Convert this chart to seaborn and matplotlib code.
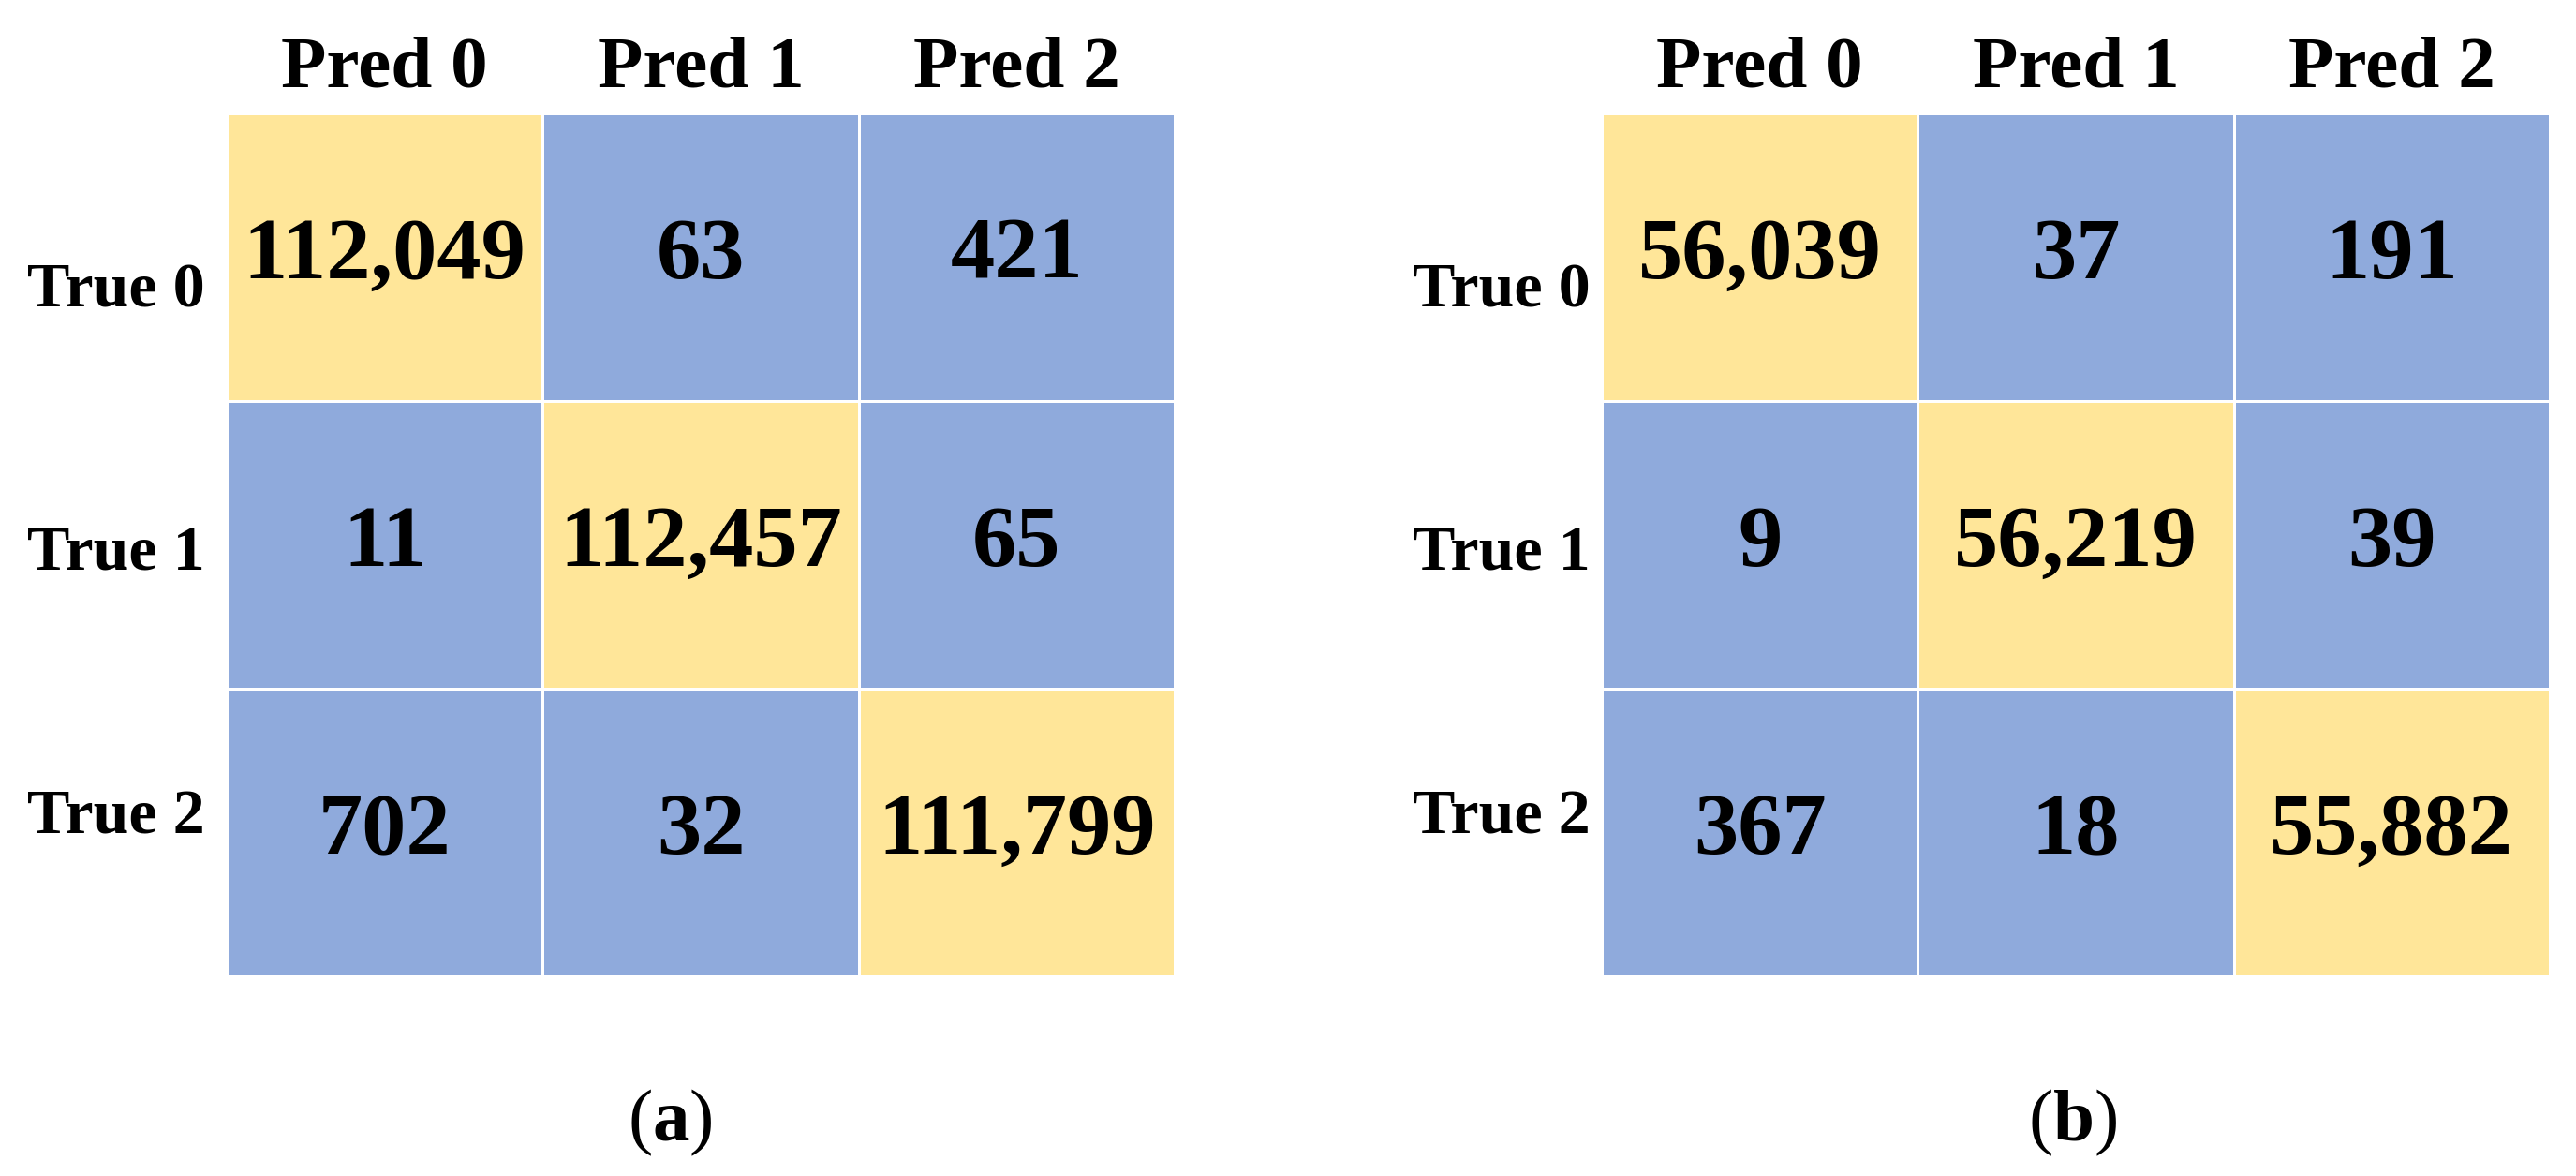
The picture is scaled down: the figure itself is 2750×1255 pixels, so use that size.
import numpy as np
import pandas as pd
import seaborn as sns
import matplotlib.pyplot as plt
from matplotlib.colors import ListedColormap, BoundaryNorm

# 1. Data
true_labels = ["True 0", "True 1", "True 2"]
pred_labels = ["Pred 0", "Pred 1", "Pred 2"]

cm_a = [[112049, 63, 421],
        [11, 112457, 65],
        [702, 32, 111799]]
cm_b = [[56039, 37, 191],
        [9, 56219, 39],
        [367, 18, 55882]]
panel_tags = ["a", "b"]

# 2. Style
sns.set_theme(style="white")
plt.rcParams['font.family'] = ['Liberation Serif', 'DejaVu Serif']
plt.rcParams['mathtext.fontset'] = 'custom'
plt.rcParams['mathtext.rm'] = 'Liberation Serif'
plt.rcParams['mathtext.bf'] = 'Liberation Serif:bold'

# blue for off-diagonal counts, yellow for the large (correct) counts
cmap = ListedColormap(["#8FAADC", "#FFE699"])
norm = BoundaryNorm([0, 10000, 1e6], cmap.N)

fig = plt.figure(figsize=(27.5, 12.55), dpi=100)
axes_pos = [[0.088, 0.1697, 0.368, 0.7339],
            [0.6218, 0.1697, 0.368, 0.7339]]
ylab_pad = [17, 9]
ylab_shift = [0.12, 0.03, -0.05]   # row label nudges seen in the original
caption_x = [715 / 2750, 2213 / 2750]

# 3. Draw both confusion matrices
for cm, pos, pad, tag, cx in zip([cm_a, cm_b], axes_pos, ylab_pad,
                                 panel_tags, caption_x):
    ax = fig.add_axes(pos)
    df = pd.DataFrame(cm, index=true_labels, columns=pred_labels)
    sns.heatmap(
        df,
        ax=ax,
        annot=True,
        fmt=",d",
        cmap=cmap,
        norm=norm,
        cbar=False,
        linewidths=2,
        linecolor="white",
        annot_kws={"size": 68, "weight": "bold", "color": "black"}
    )
    ax.xaxis.tick_top()
    ax.set_xlabel("")
    ax.set_ylabel("")
    ax.set_yticks(np.arange(3) + 0.5 + np.array(ylab_shift))
    ax.set_yticklabels(true_labels, rotation=0, fontsize=49, fontweight="bold",
                       color="black")
    ax.set_xticklabels(pred_labels, rotation=0, fontsize=57, fontweight="bold",
                       color="black")
    ax.tick_params(axis="x", length=0, pad=8)
    ax.tick_params(axis="y", length=0, pad=pad)

    fig.text(cx, 0.0454, r"($\mathbf{%s}$)" % tag, ha="center", va="center",
             fontsize=57, color="black")

# 4. Save
plt.savefig("out.png", dpi=100)
plt.close()
